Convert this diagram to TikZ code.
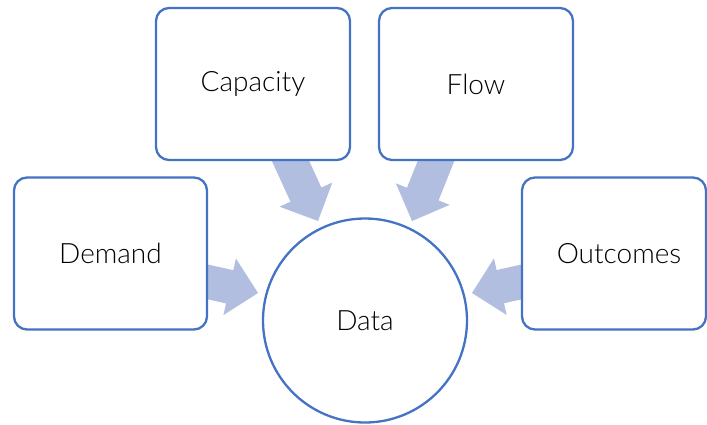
\documentclass[tikz,border=0pt]{standalone}
\usepackage{fontspec}
\setmainfont{Lato}[UprightFont={* Light}]
\usetikzlibrary{calc}
\definecolor{boxline}{RGB}{68,114,196}
\definecolor{arrowfill}{RGB}{177,190,224}
\tikzset{
  topic/.style={draw=boxline, line width=2.3pt, rounded corners=13pt, fill=white,
    minimum width=#1, minimum height=152pt, inner sep=0pt},
  topic/.default=194pt,
  hub/.style={circle, draw=boxline, line width=2.3pt, fill=white,
    minimum size=204pt, inner sep=0pt},
  label/.style={font=\fontsize{28}{32}\selectfont, inner sep=0pt},
  blockarrow/.style={fill=arrowfill, draw=none}
}
% wide block arrow from tail #1 to tip #2
\newcommand{\blockarrow}[2]{%
  \coordinate (neck) at ($(#2)!29pt!(#1)$);
  \fill[blockarrow]
    ($(#1)!17pt!90:(#2)$) --
    ($(neck)!17pt!-90:(#1)$) --
    ($(neck)!29pt!-90:(#1)$) --
    (#2) --
    ($(neck)!29pt!90:(#1)$) --
    ($(neck)!17pt!90:(#1)$) --
    ($(#1)!17pt!-90:(#2)$) -- cycle;}
\begin{document}
\begin{tikzpicture}[x=1pt,y=-1pt]
\useasboundingbox (0,0) rectangle (707,424);

% arrow anchors: tails sit just inside each box, tips stop short of the circle
\coordinate (capT) at (286,151);
\coordinate (capH) at (318,221);
\coordinate (flowT) at (440,151);
\coordinate (flowH) at (412,221);
\coordinate (demT) at (199,280);
\coordinate (demH) at (258,293);
\coordinate (outT) at (530,280);
\coordinate (outH) at (472,293);

\blockarrow{capT}{capH}
\blockarrow{flowT}{flowH}
\blockarrow{demT}{demH}
\blockarrow{outT}{outH}

\node[topic] (capacity) at (253,84) {};
\node[topic] (flow) at (476,84) {};
\node[topic=193pt] (demand) at (110.5,253.5) {};
\node[topic=184pt] (outcomes) at (614,253.5) {};
\node[hub] (data) at (365,320.5) {};

\node[label] at (capacity.center) {Capacity};
\node[label] at (flow.center) {Flow};
\node[label] at (demand.center) {Demand};
\node[label] at ($(outcomes.center)+(5,0)$) {Outcomes};
\node[label] at (data.center) {Data};
\end{tikzpicture}
\end{document}
